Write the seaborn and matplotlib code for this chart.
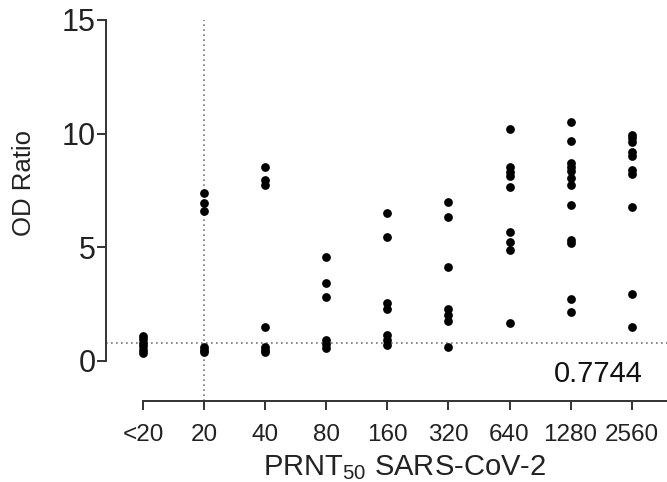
import matplotlib
matplotlib.use('Agg')
import matplotlib.pyplot as plt
import seaborn as sns
import pandas as pd

# 값
titers = ['<20', '20', '40', '80', '160', '320', '640', '1280', '2560']
od_lt20 = [1.1, 0.95, 0.8, 0.65, 0.5, 0.35]
od_20 = [7.4, 6.95, 6.6, 0.6, 0.5, 0.4]
od_40 = [8.55, 7.95, 7.75, 1.5, 0.62, 0.5, 0.4]
od_80 = [4.57, 3.45, 2.8, 0.92, 0.75, 0.57]
od_160 = [6.5, 5.45, 2.55, 2.3, 1.15, 0.92, 0.72]
od_320 = [7.0, 6.33, 4.14, 2.29, 2.03, 1.76, 0.63]
od_640 = [10.2, 8.53, 8.32, 8.14, 7.65, 5.67, 5.24, 4.88, 1.67]
od_1280 = [10.53, 9.68, 8.71, 8.55, 8.36, 8.05, 7.75, 6.86, 5.3, 5.2, 2.73, 2.16]
od_2560 = [9.94, 9.8, 9.65, 9.2, 9.0, 8.4, 8.2, 6.75, 2.95, 1.5]
cutoff = 0.7744

groups = [od_lt20, od_20, od_40, od_80, od_160, od_320, od_640, od_1280, od_2560]
df = pd.DataFrame({'titer': [t for t, g in zip(titers, groups) for _ in g],
                   'od': [v for g in groups for v in g]})

sns.set_style('ticks')
plt.rcParams['font.family'] = ['Liberation Sans', 'DejaVu Sans']
plt.rcParams['mathtext.default'] = 'regular'

fig = plt.figure(figsize=(6.67, 4.82), dpi=100)
ax = fig.add_axes([0.159, 0.168, 0.841, 0.805])

sns.stripplot(data=df, x='titer', y='od', order=titers, jitter=False,
              color='black', size=6.3, linewidth=0, ax=ax)

ax.set_xlim(-0.61, 8.58)
ax.set_ylim(-1.76, 15.3)

# 기준선 (점선)
ax.axhline(cutoff, color='#777777', linestyle=(0, (1, 2)), linewidth=1.2, zorder=0)
ax.plot([1, 1], [-1.76, 15], color='#777777', linestyle=(0, (1, 2)),
        linewidth=1.2, zorder=0)
ax.text(8.18, -0.55, f'{cutoff:.4f}', fontsize=21, ha='right', va='center',
        color='#111111')

ax.set_yticks([0, 5, 10, 15])
ax.spines['left'].set_bounds(0, 15)
ax.spines['bottom'].set_bounds(0, 8.58)
for s in ['left', 'bottom']:
    ax.spines[s].set_linewidth(1.4)
    ax.spines[s].set_color('#333333')
sns.despine(ax=ax)
ax.tick_params(direction='out', length=6.5, width=1.4, color='#333333',
               labelcolor='#222222')
ax.tick_params(axis='y', labelsize=22, pad=1)
ax.tick_params(axis='x', labelsize=17.5, pad=10)

ax.set_xlabel('PRNT$_{50}$ SARS-CoV-2', fontsize=21, color='#222222')
ax.set_ylabel('OD Ratio', fontsize=18.5, color='#222222')
ax.xaxis.set_label_coords(0.533, -0.134)
ax.yaxis.set_label_coords(-0.125, 0.562)

plt.savefig('out.png', dpi=100)
